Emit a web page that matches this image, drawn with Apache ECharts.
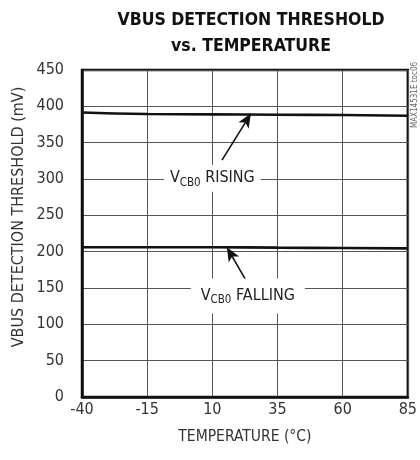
<!DOCTYPE html>
<html><head><meta charset="utf-8">
<script src="https://cdn.jsdelivr.net/npm/echarts@6/dist/echarts.min.js"></script>
<style>html,body{margin:0;padding:0;background:#fff}#c{width:420px;height:460px}</style>
</head><body><div id="c"></div>
<script>
var temps = [-40, -15, 10, 35, 60, 85];
var risingMv = [391.5, 389.5, 389, 388.5, 388, 387];
var fallingMv = [206, 206, 206, 205.5, 205, 204.5];
var xTicks = [-40, -15, 10, 35, 60, 85];
var yTicks = [0, 50, 100, 150, 200, 250, 300, 350, 400, 450];
var risingLabelAt = [10, 301];
var fallingLabelAt = [23.6, 139];
var risingArrow = [[13.7, 326], [24.8, 390]];
var fallingArrow = [[23.3, 158], [15.6, 206]];

var FONT = '"Liberation Sans Narrow","DejaVu Sans Condensed",sans-serif';
var chart = echarts.init(document.getElementById('c'), null, {renderer:'canvas'});
function pairs(xs, ys){ return xs.map(function(x,i){return [x, ys[i]];}); }
function richLbl(word, pad){
  return {
    show:true, position:'inside',
    formatter:'{v|V}{s|CB0}{v| ' + word + '}',
    backgroundColor:'#fff', padding:pad,
    rich:{
      v:{fontFamily:FONT, fontSize:16, color:'#222'},
      s:{fontFamily:FONT, fontSize:11.5, color:'#222', padding:[9,0,0,0]}
    }
  };
}
function arrow(a){
  return {
    silent:true, symbol:['none','arrow'], symbolSize:[9,14],
    lineStyle:{color:'#111', width:1.6, type:'solid'},
    label:{show:false},
    data:[[{coord:a[0]},{coord:a[1]}]]
  };
}
chart.setOption({
  animation:false,
  backgroundColor:'#fff',
  title:{
    text:'VBUS DETECTION THRESHOLD\nvs. TEMPERATURE',
    left:246, textAlign:'center', top:2,
    textStyle:{fontFamily:FONT, fontWeight:'bold', fontSize:17.5, lineHeight:26, color:'#111'}
  },
  grid:{left:82, right:10, top:70, bottom:63, show:true, borderColor:'#111', borderWidth:2.5, containLabel:false},
  xAxis:{
    type:'value', min:-40, max:85, interval:25,
    name:'TEMPERATURE (°C)', nameLocation:'middle', nameGap:32,
    nameTextStyle:{fontFamily:FONT, fontSize:15.5, color:'#333'},
    axisLine:{show:true, onZero:false, lineStyle:{color:'#111', width:2.5}},
    axisTick:{show:false},
    axisLabel:{fontFamily:FONT, fontSize:16, color:'#333', margin:5,
      customValues: xTicks},
    splitLine:{show:true, lineStyle:{color:'#555', width:1}}
  },
  yAxis:{
    type:'value', min:0, max:450, interval:50,
    axisLine:{show:true, onZero:false, lineStyle:{color:'#111', width:2.5}},
    axisTick:{show:false},
    axisLabel:{fontFamily:FONT, fontSize:16, color:'#333', margin:18},
    splitLine:{show:true, lineStyle:{color:'#555', width:1}}
  },
  graphic:[
    {type:'text', x:19, y:217, rotation:Math.PI/2,
      style:{text:'VBUS DETECTION THRESHOLD (mV)', fontFamily:FONT, fontSize:16, fill:'#333', align:'center', verticalAlign:'middle'}},
    {type:'text', x:415, y:95, rotation:Math.PI/2,
      style:{text:'MAX14531E toc06', fontFamily:FONT, fontSize:8, fill:'#666', align:'center', verticalAlign:'middle'}}
  ],
  series:[
    {type:'line', data:pairs(temps, risingMv), showSymbol:false, smooth:true,
      lineStyle:{color:'#111', width:2.6}, z:3,
      markPoint:{silent:true, symbol:'circle', symbolSize:0, data:[{coord:risingLabelAt, label:richLbl('RISING', [3,6,3,6])}]},
      markLine:arrow(risingArrow)},
    {type:'line', data:pairs(temps, fallingMv), showSymbol:false, smooth:true,
      lineStyle:{color:'#111', width:2.6}, z:3,
      markPoint:{silent:true, symbol:'circle', symbolSize:0, data:[{coord:fallingLabelAt, label:richLbl('FALLING', [7,10,7,10])}]},
      markLine:arrow(fallingArrow)}
  ]
});
</script></body></html>
